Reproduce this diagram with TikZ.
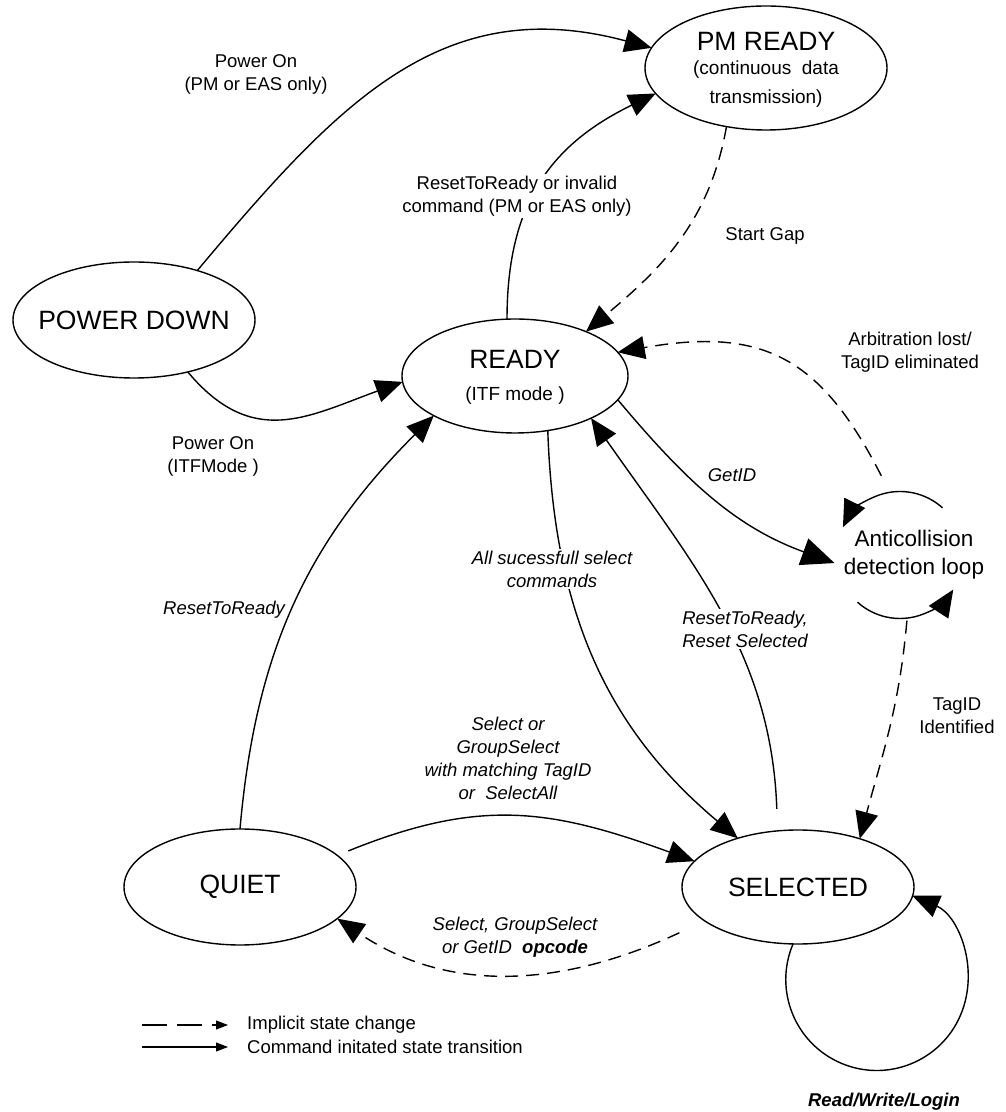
\documentclass[tikz,border=0pt]{standalone}
\usepackage{fontspec}
\setmainfont{Liberation Sans}
\usetikzlibrary{arrows.meta, shapes.geometric}

\newcommand{\statesize}{\fontsize{26.5}{30}\selectfont}
\newcommand{\subsize}{\fontsize{19}{23}\selectfont}
\newcommand{\antisize}{\fontsize{22.5}{28}\selectfont}
\newcommand{\lblsize}{\fontsize{18.5}{23}\selectfont}

\tikzset{
  state/.style={draw, ellipse, line width=1.4pt, inner sep=0pt, outer sep=0pt, font=\statesize},
  loopzone/.style={circle, minimum size=132pt, inner sep=0pt, outer sep=0pt},
  cmd/.style={line width=1.4pt, -{Triangle[length=27pt, width=23pt]}},
  impl/.style={cmd, dash pattern=on 13pt off 8pt},
  bigtip/.style={-{Triangle[length=33pt, width=28pt]}},
  keyline/.style={line width=1.2pt, -{Triangle[length=12pt, width=9pt]}},
  lbl/.style={font=\lblsize, align=center, inner sep=2pt},
  itlbl/.style={lbl, font=\lblsize\itshape},
  cover/.style={fill=white}
}

\begin{document}
\begin{tikzpicture}[x=1pt, y=1pt]
    \useasboundingbox (0,0) rectangle (1006,1112);

    % states
    \node[state, minimum width=242pt, minimum height=124pt] (pm) at (766,1044) {};
    \node[font=\statesize] (pmtitle) at (766,1071) {PM READY};
    \node[font=\subsize] (pmsub1) at (766,1042) {(continuous\ \ data};
    \node[font=\subsize] (pmsub2) at (766,1013) {transmission)};

    \node[state, minimum width=242pt, minimum height=116pt] (pd) at (134,792) {\makebox[0pt]{POWER DOWN}};

    \node[state, minimum width=226pt, minimum height=114pt] (rdy) at (515,736) {};
    \node[font=\statesize] (rdytitle) at (515,753) {READY};
    \node[font=\subsize] (rdysub) at (515,716) {(ITF mode )};

    \node[state, minimum width=232pt, minimum height=116pt] (qt) at (240,225) {\makebox[0pt]{QUIET}};
    \node[state, minimum width=232pt, minimum height=114pt] (sel) at (798,225) {\makebox[0pt]{SELECTED}};

    \node[loopzone] (anti) at (900,557) {};
    \node[font=\antisize, align=center] (antitxt) at (914,557) {Anticollision\\detection loop};

    % transitions
    \draw[cmd] (pd.38) to[out=50, in=165, looseness=1.1] (pm.170);
    \draw[cmd] (rdy.98) to[out=90, in=206, looseness=1.1] (pm.193);
    \draw[impl] (pm.236) to[out=260, in=40] (rdy.32);
    \draw[cmd] (pd.316) to[out=-50, in=200, looseness=1.2] (rdy.183);
    \draw[cmd] (qt.90) to[out=85, in=225] (rdy.206);
    \draw[cmd] (rdy.-59) to[out=-88, in=140] (sel.141);
    \draw[cmd, shorten <=22pt] (sel.110) to[out=92, in=-55] (rdy.331);
    \draw[cmd, bigtip] (rdy.347) to[out=-50, in=160] (anti.187);
    \draw[impl, shorten <=16pt] (anti.100) to[out=117, in=10, looseness=1.25] (rdy.13);
    \draw[cmd] ([shift={(48:63.5pt)}]anti.center) arc[start angle=48, end angle=154, radius=63.5pt];
    \draw[cmd] ([shift={(228:63.5pt)}]anti.center) arc[start angle=228, end angle=327, radius=63.5pt];
    \draw[impl] (anti.276) to[out=265, in=75] (sel.38);
    \draw[cmd, shorten <=12pt] (qt.18) to[out=22, in=160, looseness=1.1] (sel.166);
    \draw[impl, shorten <=28pt] (sel.200) to[out=205, in=-34] (qt.342);
    \draw[cmd] (sel.265) arc[start angle=157, end angle=427, radius=91pt];

    % labels
    \node[lbl] (pwr1) at (256,1038) {Power On\\(PM or EAS only)};
    \node[lbl, cover] (rst1) at (517,916) {ResetToReady or invalid\\command (PM or EAS only)};
    \node[lbl] (gap) at (765,876) {Start Gap};
    \node[lbl] (pwr2) at (213,656) {Power On\\(ITFMode )};
    \node[lbl] (arb) at (910,760) {Arbitration lost/\\TagID eliminated};
    \node[itlbl] (getid) at (732,637) {GetID};
    \node[itlbl, cover] (allsel) at (552,543) {All sucessfull select\\commands};
    \node[itlbl, cover] (rst3) at (745,483) {ResetToReady,\\Reset Selected};
    \node[itlbl] (rst2) at (224,502) {ResetToReady};
    \node[lbl] (tagid) at (957,396) {TagID\\Identified};
    \node[itlbl] (selor) at (508,354) {Select or\\GroupSelect\\with matching TagID\\or\ \ SelectAll};
    \node[itlbl] (opc) at (515,175) {Select, GroupSelect\\or GetID\ \ \textbf{opcode}};
    \node[itlbl, font=\lblsize\bfseries\itshape] (rwl) at (884,10) {Read/Write/Login};

    % key
    \coordinate (dsha) at (142,87);
    \coordinate (dshb) at (228,87);
    \coordinate (sola) at (142,65);
    \coordinate (solb) at (228,65);
    \draw[keyline, dash pattern=on 25pt off 10pt] (dsha) -- (dshb);
    \draw[keyline] (sola) -- (solb);
    \node[lbl, anchor=west] (keyimpl) at (245,87) {Implicit state change};
    \node[lbl, anchor=west] (keycmd) at (245,65) {Command initated state transition};
\end{tikzpicture}
\end{document}
